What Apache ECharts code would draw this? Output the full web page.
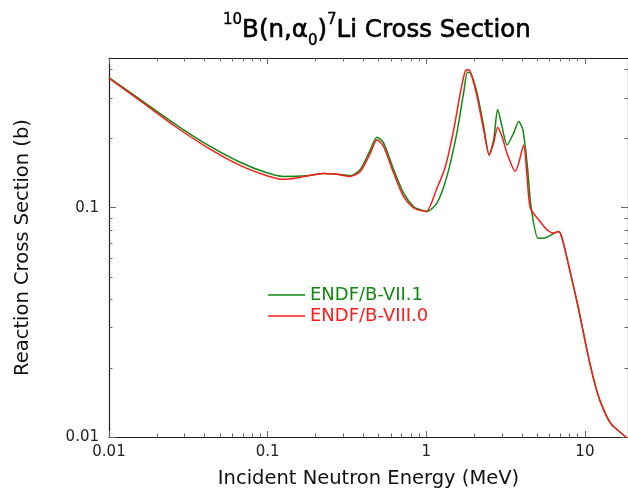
<!DOCTYPE html>
<html>
<head>
<meta charset="utf-8">
<script src="https://cdn.jsdelivr.net/npm/echarts@6/dist/echarts.min.js"></script>
<style>html,body{margin:0;padding:0;background:#fff}#c{width:628px;height:490px}</style>
</head>
<body>
<div id="c"></div>
<script>
// Energy (MeV) and cross section (b) for each evaluation
const energyVII = [0.01, 0.0157, 0.0255, 0.0413, 0.0671, 0.0989, 0.126, 0.177, 0.225, 0.273, 0.332, 0.384, 0.444, 0.489, 0.538, 0.622, 0.719, 0.832, 0.916, 1.01, 1.17, 1.35, 1.56, 1.72, 1.82, 1.90, 2.09, 2.30, 2.49, 2.66, 2.82, 3.00, 3.23, 3.56, 3.83, 4.06, 4.32, 4.58, 5.07, 5.50, 6.52, 6.84, 7.18, 8.11, 9.15, 10.3, 11.4, 12.5, 14.5, 18.5, 19.5];
const sigmaVII = [0.370, 0.297, 0.234, 0.189, 0.158, 0.142, 0.137, 0.138, 0.141, 0.140, 0.138, 0.147, 0.179, 0.203, 0.192, 0.147, 0.116, 0.101, 0.098, 0.0964, 0.105, 0.137, 0.212, 0.317, 0.390, 0.388, 0.317, 0.227, 0.170, 0.198, 0.268, 0.227, 0.188, 0.212, 0.238, 0.219, 0.157, 0.101, 0.0737, 0.0737, 0.078, 0.0788, 0.0737, 0.0519, 0.0359, 0.0240, 0.0177, 0.0143, 0.0115, 0.00986, 0.0093];
const energyVIII = [0.01, 0.0157, 0.0255, 0.0413, 0.0671, 0.0989, 0.126, 0.153, 0.225, 0.273, 0.332, 0.384, 0.444, 0.489, 0.538, 0.622, 0.719, 0.832, 0.916, 1.0, 1.17, 1.32, 1.49, 1.64, 1.76, 1.85, 1.94, 2.09, 2.30, 2.50, 2.66, 2.82, 3.00, 3.23, 3.64, 3.83, 4.11, 4.32, 4.53, 5.11, 5.77, 6.35, 6.84, 7.18, 8.11, 9.15, 10.3, 11.4, 12.5, 14.5, 18.5, 19.5];
const sigmaVIII = [0.368, 0.293, 0.229, 0.184, 0.153, 0.138, 0.133, 0.135, 0.141, 0.140, 0.137, 0.144, 0.173, 0.198, 0.185, 0.142, 0.112, 0.0997, 0.0974, 0.0964, 0.122, 0.151, 0.219, 0.317, 0.394, 0.401, 0.374, 0.306, 0.219, 0.170, 0.192, 0.224, 0.205, 0.173, 0.144, 0.157, 0.188, 0.137, 0.0997, 0.0887, 0.0802, 0.0776, 0.0788, 0.0737, 0.0519, 0.0359, 0.0240, 0.0177, 0.0143, 0.0115, 0.00986, 0.0093];
const seriesNames = ['ENDF/B-VII.1', 'ENDF/B-VIII.0'];
const xMajorTicks = [0.01, 0.1, 1, 10];
const xMinorTicks = [0.02,0.03,0.04,0.05,0.06,0.07,0.08,0.09,0.2,0.3,0.4,0.5,0.6,0.7,0.8,0.9,2,3,4,5,6,7,8,9];
const yMajorTicks = [0.01, 0.1];
const yMinorTicks = [0.02,0.03,0.04,0.05,0.06,0.07,0.08,0.09,0.2,0.3,0.4];

const FONT = 'DejaVu Sans';
const X_MIN = 0.01, X_MAX = 18.7, Y_MIN = 0.01, Y_MAX = 0.45;
const pairs = (xs, ys) => xs.map((x, i) => [x, ys[i]]);

function xAx(pos, ticks, len, withLabel) {
  return {
    type: 'log', logBase: 10, min: X_MIN, max: X_MAX, position: pos,
    axisLine: { show: len > 4, lineStyle: { color: '#222', width: 1.2 } },
    axisTick: { show: true, inside: true, length: len, customValues: ticks, lineStyle: { color: '#666', width: 1 } },
    axisLabel: withLabel ? { show: true, customValues: ticks, fontFamily: FONT, fontSize: 15, color: '#222', margin: 8,
      formatter: v => String(+Number(v).toPrecision(3)) } : { show: false },
    splitLine: { show: false }, minorTick: { show: false },
    name: withLabel ? 'Incident Neutron Energy (MeV)' : '',
    nameLocation: 'middle', nameGap: 32,
    nameTextStyle: { fontFamily: FONT, fontSize: 19.5, color: '#111' }
  };
}
function yAx(pos, ticks, len, withLabel) {
  return {
    type: 'log', logBase: 10, min: Y_MIN, max: Y_MAX, position: pos,
    axisLine: { show: len > 4, lineStyle: { color: '#222', width: 1.2 } },
    axisTick: { show: true, inside: true, length: len, customValues: ticks, lineStyle: { color: '#666', width: 1 } },
    axisLabel: withLabel ? { show: true, customValues: ticks, fontFamily: FONT, fontSize: 15, color: '#222', margin: 10,
      formatter: v => String(+Number(v).toPrecision(3)) } : { show: false },
    splitLine: { show: false }, minorTick: { show: false },
    name: withLabel ? 'Reaction Cross Section (b)' : '',
    nameLocation: 'middle', nameGap: 76,
    nameTextStyle: { fontFamily: FONT, fontSize: 19.5, color: '#111' }
  };
}

const chart = echarts.init(document.getElementById('c'), null, { renderer: 'canvas' });
chart.setOption({
  animation: false,
  backgroundColor: '#fff',
  title: {
    left: 218, top: 8,
    text: '{sup|10}{m|B(n,α}{sub|0}{m|)}{sup|7}{m|Li Cross Section}',
    textStyle: {
      fontWeight: 'normal',
      rich: {
        m: { fontFamily: FONT, fontSize: 24.5, fontWeight: 'normal', color: '#000', lineHeight: 36, verticalAlign: 'middle', textBorderColor: '#000', textBorderWidth: 0.6 },
        sup: { fontFamily: FONT, fontSize: 15, fontWeight: 'normal', color: '#000', lineHeight: 16, verticalAlign: 'top', textBorderColor: '#000', textBorderWidth: 0.4 },
        sub: { fontFamily: FONT, fontSize: 15, fontWeight: 'normal', color: '#000', lineHeight: 12, verticalAlign: 'bottom', textBorderColor: '#000', textBorderWidth: 0.4 }
      }
    }
  },
  legend: {
    orient: 'vertical', left: 263, top: 281, itemWidth: 37, itemHeight: 1.5, itemGap: 3,
    icon: 'rect',
    textStyle: { fontFamily: FONT, fontSize: 18 },
    data: [
      { name: seriesNames[0], textStyle: { color: '#118811' } },
      { name: seriesNames[1], textStyle: { color: '#ff1a1a' } }
    ]
  },
  grid: { left: 109, right: 0, top: 58, bottom: 53, containLabel: false, outerBoundsMode: 'none' },
  xAxis: [
    xAx('bottom', xMajorTicks, 6, true),
    xAx('bottom', xMinorTicks, 3.5, false),
    xAx('top', xMajorTicks, 6, false),
    xAx('top', xMinorTicks, 3.5, false)
  ],
  yAxis: [
    yAx('left', yMajorTicks, 7, true),
    yAx('left', yMinorTicks, 3.5, false),
    yAx('right', yMajorTicks, 7, false),
    yAx('right', yMinorTicks, 3.5, false)
  ],
  series: [
    { name: seriesNames[0], type: 'line', xAxisIndex: 0, yAxisIndex: 0, data: pairs(energyVII, sigmaVII),
      showSymbol: false, symbol: 'none', smooth: 0.25, clip: true,
      lineStyle: { color: '#118811', width: 1.5 }, itemStyle: { color: '#118811' } },
    { name: seriesNames[1], type: 'line', xAxisIndex: 0, yAxisIndex: 0, data: pairs(energyVIII, sigmaVIII),
      showSymbol: false, symbol: 'none', smooth: 0.25, clip: true,
      lineStyle: { color: '#ff1a1a', width: 1.5 }, itemStyle: { color: '#ff1a1a' } }
  ]
});
</script>
</body>
</html>
